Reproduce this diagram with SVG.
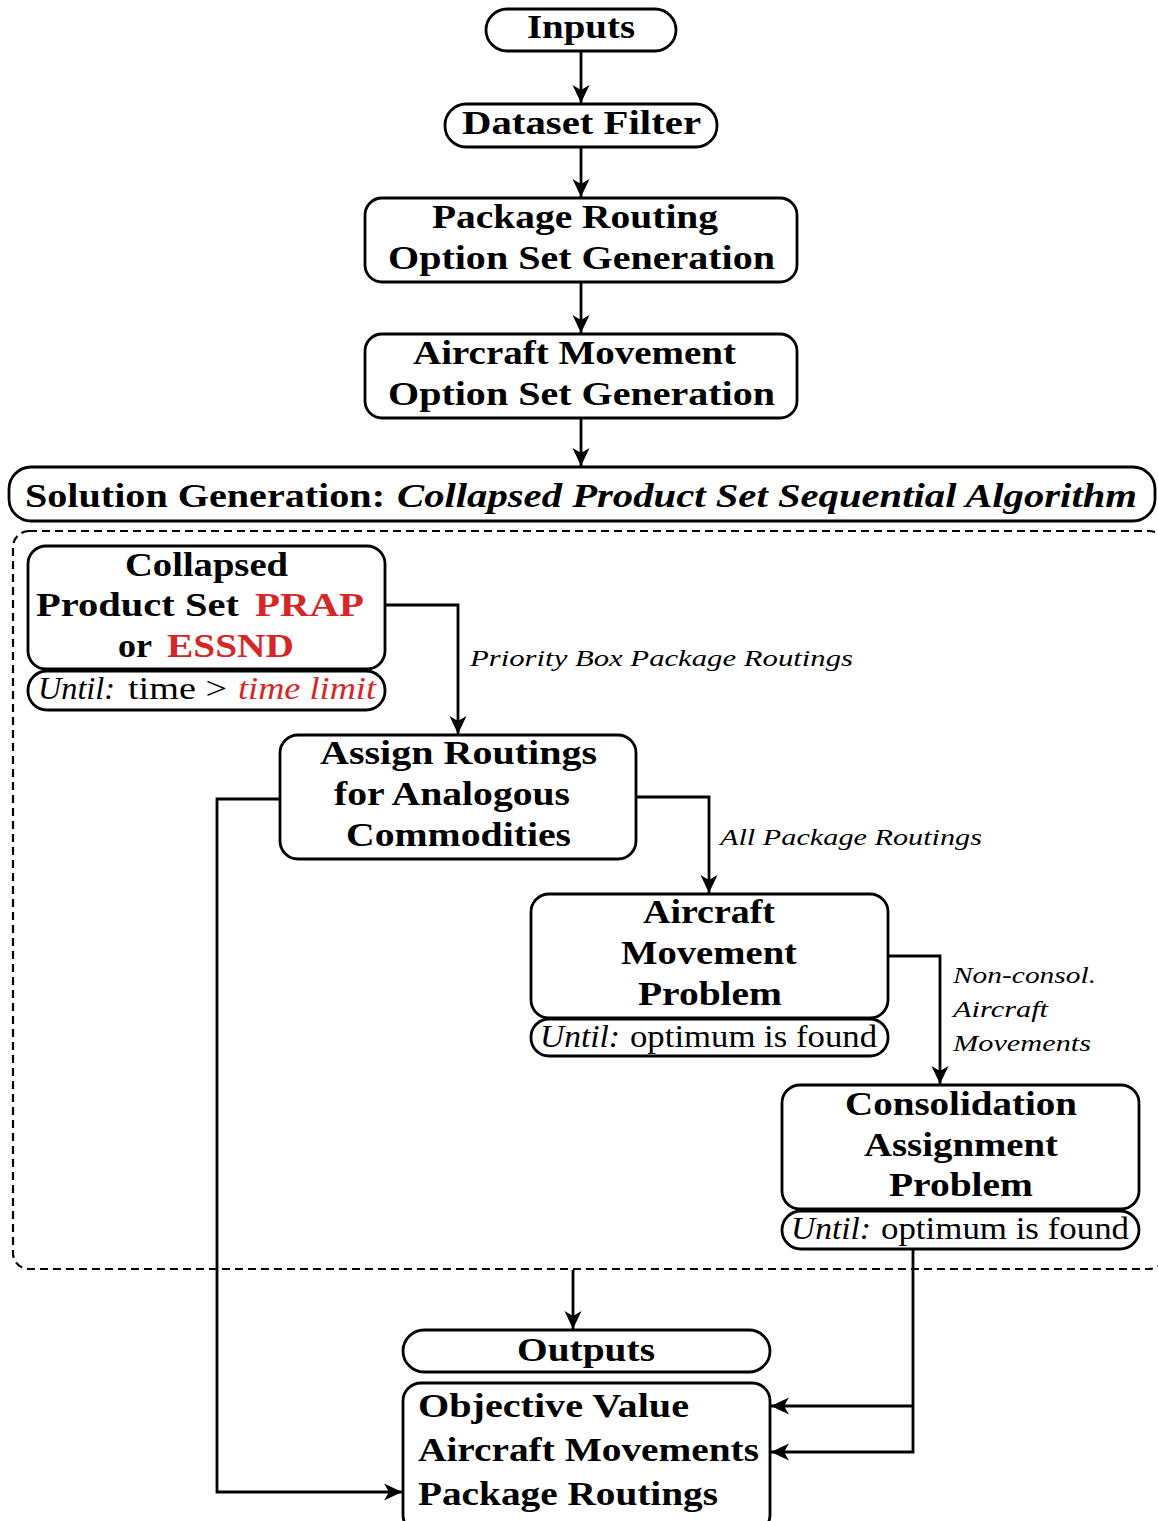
<svg xmlns="http://www.w3.org/2000/svg" width="1158" height="1521" viewBox="0 0 1158 1521">
  <style>
    .box { fill: #ffffff; stroke: #000000; stroke-width: 2.8; }
    .edge { fill: none; stroke: #000000; stroke-width: 2.8; }
    .frame { fill: none; stroke: #000000; stroke-width: 2.2; stroke-dasharray: 8 5; }
    .t { font-family: "Liberation Serif", "DejaVu Serif", serif; font-size: 33px; font-weight: bold; fill: #000000; }
    .ti { font-family: "Liberation Serif", "DejaVu Serif", serif; font-size: 33px; font-weight: bold; font-style: italic; fill: #000000; }
    .u { font-family: "Liberation Serif", "DejaVu Serif", serif; font-size: 32px; fill: #000000; }
    .ui { font-family: "Liberation Serif", "DejaVu Serif", serif; font-size: 32px; font-style: italic; fill: #000000; }
    .lbl { font-family: "Liberation Serif", "DejaVu Serif", serif; font-size: 24px; font-style: italic; fill: #000000; }
    .red { fill: #d62728; }
  </style>
  <defs>
    <marker id="arrow" markerUnits="userSpaceOnUse" markerWidth="20" markerHeight="20" refX="18" refY="9" orient="auto">
      <path d="M0,0.5 L18,9 L0,17.5 L5,9 Z" fill="#000000"/>
    </marker>
  </defs>

  <rect width="1158" height="1521" fill="#ffffff"/>

  <!-- dashed frame around the sequential algorithm stages -->
  <rect class="frame" x="13" y="531" width="1152" height="738" rx="16"/>

  <g id="connectors">
    <line class="edge" x1="581" y1="51" x2="581" y2="103" marker-end="url(#arrow)"/>
    <line class="edge" x1="581" y1="147" x2="581" y2="197" marker-end="url(#arrow)"/>
    <line class="edge" x1="581" y1="282" x2="581" y2="333" marker-end="url(#arrow)"/>
    <line class="edge" x1="581" y1="418" x2="581" y2="466" marker-end="url(#arrow)"/>
    <polyline class="edge" points="385,605 458,605 458,734" marker-end="url(#arrow)"/>
    <polyline class="edge" points="636,797 709,797 709,893" marker-end="url(#arrow)"/>
    <polyline class="edge" points="888,956 940,956 940,1084" marker-end="url(#arrow)"/>
    <polyline class="edge" points="280,799 217,799 217,1492 402,1492" marker-end="url(#arrow)"/>
    <line class="edge" x1="573" y1="1270" x2="573" y2="1329" marker-end="url(#arrow)"/>
    <polyline class="edge" points="913,1250 913,1452 771,1452" marker-end="url(#arrow)"/>
    <polyline class="edge" points="913,1406 771,1406" marker-end="url(#arrow)"/>
    <text class="lbl" x="470" y="666" textLength="383" lengthAdjust="spacingAndGlyphs">Priority Box Package Routings</text>
    <text class="lbl" x="720" y="845" textLength="262" lengthAdjust="spacingAndGlyphs">All Package Routings</text>
    <text class="lbl" x="953" y="983" textLength="143" lengthAdjust="spacingAndGlyphs">Non-consol.</text>
    <text class="lbl" x="953" y="1017" textLength="95" lengthAdjust="spacingAndGlyphs">Aircraft</text>
    <text class="lbl" x="953" y="1051" textLength="138" lengthAdjust="spacingAndGlyphs">Movements</text>
  </g>

  <g id="inputs">
    <rect class="box" x="486" y="9" width="190" height="42" rx="21"/>
    <text class="t" x="527" y="38" textLength="108" lengthAdjust="spacingAndGlyphs">Inputs</text>
  </g>

  <g id="dataset-filter">
    <rect class="box" x="445" y="104" width="272" height="43" rx="21"/>
    <text class="t" x="462" y="134" textLength="239" lengthAdjust="spacingAndGlyphs">Dataset Filter</text>
  </g>

  <g id="package-routing-options">
    <rect class="box" x="365" y="198" width="432" height="84" rx="17"/>
    <text class="t" x="432" y="228" textLength="286" lengthAdjust="spacingAndGlyphs">Package Routing</text>
    <text class="t" x="388" y="269" textLength="387" lengthAdjust="spacingAndGlyphs">Option Set Generation</text>
  </g>

  <g id="aircraft-movement-options">
    <rect class="box" x="365" y="334" width="432" height="84" rx="17"/>
    <text class="t" x="413" y="364" textLength="323" lengthAdjust="spacingAndGlyphs">Aircraft Movement</text>
    <text class="t" x="388" y="405" textLength="387" lengthAdjust="spacingAndGlyphs">Option Set Generation</text>
  </g>

  <g id="solution-generation">
    <rect class="box" x="9" y="467" width="1146" height="54" rx="22"/>
    <text class="t" x="25" y="507" textLength="360" lengthAdjust="spacingAndGlyphs">Solution Generation:</text>
    <text class="ti" x="397" y="507" textLength="740" lengthAdjust="spacingAndGlyphs">Collapsed Product Set Sequential Algorithm</text>
  </g>

  <g id="collapsed-prap">
    <rect class="box" x="28" y="546" width="357" height="123" rx="18"/>
    <text class="t" x="125" y="576" textLength="163" lengthAdjust="spacingAndGlyphs">Collapsed</text>
    <text class="t" x="36" y="616" textLength="203" lengthAdjust="spacingAndGlyphs">Product Set</text>
    <text class="t red" x="255" y="616" textLength="109" lengthAdjust="spacingAndGlyphs">PRAP</text>
    <text class="t" x="118" y="657" textLength="34" lengthAdjust="spacingAndGlyphs">or</text>
    <text class="t red" x="167" y="657" textLength="127" lengthAdjust="spacingAndGlyphs">ESSND</text>
    <rect class="box" x="28" y="671" width="357" height="39" rx="19"/>
    <text class="ui" x="38" y="699" textLength="77" lengthAdjust="spacingAndGlyphs">Until:</text>
    <text class="u" x="128" y="699" textLength="99" lengthAdjust="spacingAndGlyphs">time &gt;</text>
    <text class="ui red" x="238" y="699" textLength="138" lengthAdjust="spacingAndGlyphs">time limit</text>
  </g>

  <g id="assign-routings">
    <rect class="box" x="280" y="735" width="356" height="124" rx="18"/>
    <text class="t" x="320" y="764" textLength="277" lengthAdjust="spacingAndGlyphs">Assign Routings</text>
    <text class="t" x="334" y="805" textLength="236" lengthAdjust="spacingAndGlyphs">for Analogous</text>
    <text class="t" x="346" y="846" textLength="225" lengthAdjust="spacingAndGlyphs">Commodities</text>
  </g>

  <g id="aircraft-movement-problem">
    <rect class="box" x="531" y="894" width="357" height="124" rx="18"/>
    <text class="t" x="643" y="923" textLength="132" lengthAdjust="spacingAndGlyphs">Aircraft</text>
    <text class="t" x="621" y="964" textLength="176" lengthAdjust="spacingAndGlyphs">Movement</text>
    <text class="t" x="638" y="1005" textLength="144" lengthAdjust="spacingAndGlyphs">Problem</text>
    <rect class="box" x="531" y="1019" width="357" height="37" rx="18"/>
    <text class="ui" x="540" y="1047" textLength="80" lengthAdjust="spacingAndGlyphs">Until:</text>
    <text class="u" x="630" y="1047" textLength="247" lengthAdjust="spacingAndGlyphs">optimum is found</text>
  </g>

  <g id="consolidation-assignment">
    <rect class="box" x="782" y="1085" width="357" height="124" rx="18"/>
    <text class="t" x="845" y="1115" textLength="232" lengthAdjust="spacingAndGlyphs">Consolidation</text>
    <text class="t" x="864" y="1156" textLength="194" lengthAdjust="spacingAndGlyphs">Assignment</text>
    <text class="t" x="889" y="1196" textLength="144" lengthAdjust="spacingAndGlyphs">Problem</text>
    <rect class="box" x="782" y="1211" width="357" height="38" rx="19"/>
    <text class="ui" x="791" y="1239" textLength="80" lengthAdjust="spacingAndGlyphs">Until:</text>
    <text class="u" x="881" y="1239" textLength="248" lengthAdjust="spacingAndGlyphs">optimum is found</text>
  </g>

  <g id="outputs">
    <rect class="box" x="403" y="1330" width="367" height="42" rx="21"/>
    <text class="t" x="517" y="1361" textLength="138" lengthAdjust="spacingAndGlyphs">Outputs</text>
  </g>

  <g id="output-list">
    <rect class="box" x="403" y="1383" width="367" height="150" rx="18"/>
    <text class="t" x="418" y="1417" textLength="271" lengthAdjust="spacingAndGlyphs">Objective Value</text>
    <text class="t" x="418" y="1461" textLength="341" lengthAdjust="spacingAndGlyphs">Aircraft Movements</text>
    <text class="t" x="418" y="1505" textLength="300" lengthAdjust="spacingAndGlyphs">Package Routings</text>
  </g>
</svg>
